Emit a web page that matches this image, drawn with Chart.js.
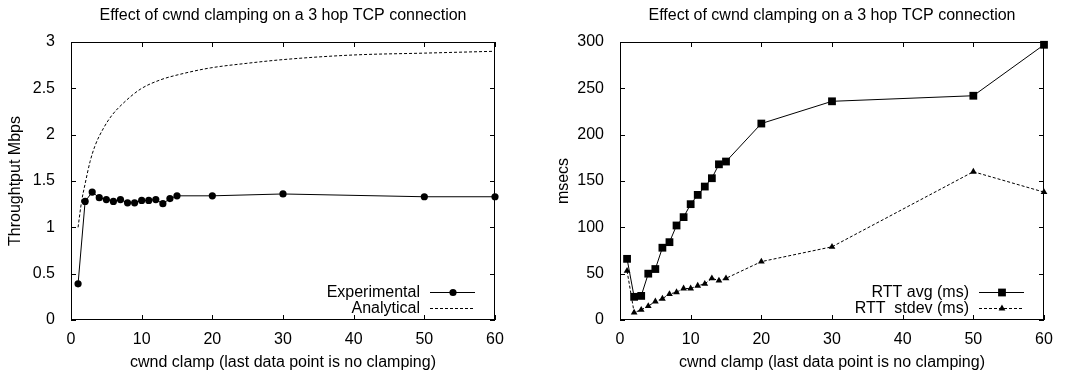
<!DOCTYPE html>
<html>
<head>
<meta charset="utf-8">
<script src="https://cdn.jsdelivr.net/npm/chart.js@4/dist/chart.umd.min.js"></script>
<style>
    html, body { margin: 0; padding: 0; background: #fff; }
    .panel { position: absolute; top: 0; width: 539px; height: 374px; }
</style>
</head>
<body>
<div class="panel" style="left:0"><canvas id="tput-chart" width="539" height="374"></canvas></div>
<div class="panel" style="left:539px"><canvas id="rtt-chart" width="539" height="374"></canvas></div>
<script>
// values
const clamps = [1, 2, 3, 4, 5, 6, 7, 8, 9, 10, 11, 12, 13, 14, 15, 20, 30, 50, 60];
const throughput = [0.39, 1.28, 1.38, 1.32, 1.30, 1.28, 1.30, 1.265, 1.265, 1.29, 1.29, 1.30, 1.255, 1.31, 1.34, 1.34, 1.36, 1.33, 1.33];

const analyticX = [1, 1.5, 2, 2.7, 3.4, 4.6, 5.8, 7.4, 9.8, 12.6, 15.9, 19.7, 24.9, 30, 40, 50, 60];
const analyticY = [1.0, 1.28, 1.47, 1.71, 1.88, 2.07, 2.21, 2.34, 2.49, 2.59, 2.66, 2.72, 2.77, 2.81, 2.86, 2.88, 2.9];

const rttAvg = [66, 25, 26, 50, 55, 78, 84, 102, 111, 125, 135, 144, 153, 168, 171, 212, 236, 242, 297];
const rttStdev = [53, 8, 11, 15, 20, 23, 28, 30, 34, 34, 37, 39, 45, 42.5, 45, 63, 79, 160, 138];

const xTicks = { min: 0, max: 60, step: 10 };
const tputTicks = { min: 0, max: 3, step: 0.5 };
const rttTicks = { min: 0, max: 300, step: 50 };

const TITLE = 'Effect of cwnd clamping on a 3 hop TCP connection';
const X_TITLE = 'cwnd clamp (last data point is no clamping)';
const FONT = "'Liberation Sans', Arial, Helvetica, sans-serif";

const toPoints = (xs, ys) => xs.map((x, i) => ({ x, y: ys[i] }));

// title centred over the plot box, like gnuplot does
const titlePlugin = {
    id: 'plotTitle',
    afterDraw(chart) {
        const { ctx, chartArea: a } = chart;
        ctx.save();
        ctx.font = `16px ${FONT}`;
        ctx.fillStyle = '#000';
        ctx.textAlign = 'center';
        ctx.textBaseline = 'middle';
        ctx.fillText(chart.options.plotTitle, (a.left + a.right) / 2, 16);
        ctx.restore();
    },
};

// gnuplot style border with inward ticks on all four sides
const framePlugin = {
    id: 'frame',
    beforeDatasetsDraw(chart) {
        const { ctx, chartArea: a, scales } = chart;
        const len = 5;
        ctx.save();
        ctx.strokeStyle = '#000';
        ctx.lineWidth = 1;
        ctx.strokeRect(a.left + 0.5, a.top + 0.5, a.right - a.left - 1, a.bottom - a.top - 1);
        ctx.beginPath();
        for (const t of scales.x.ticks) {
            const px = Math.round(scales.x.getPixelForValue(t.value)) + 0.5;
            ctx.moveTo(px, a.bottom);
            ctx.lineTo(px, a.bottom - len);
            ctx.moveTo(px, a.top);
            ctx.lineTo(px, a.top + len);
        }
        for (const t of scales.y.ticks) {
            const py = Math.round(scales.y.getPixelForValue(t.value)) + 0.5;
            ctx.moveTo(a.left, py);
            ctx.lineTo(a.left + len, py);
            ctx.moveTo(a.right, py);
            ctx.lineTo(a.right - len, py);
        }
        ctx.stroke();
        ctx.restore();
    },
};

// key in the lower right corner of the plot, text first then sample
const keyPlugin = {
    id: 'key',
    afterDatasetsDraw(chart) {
        const { ctx, chartArea: a } = chart;
        ctx.save();
        ctx.font = `16px ${FONT}`;
        ctx.textAlign = 'right';
        ctx.textBaseline = 'middle';
        chart.data.datasets.forEach((ds, i) => {
            const y = Math.round(a.bottom - 28 + i * 15.6) + 0.5;
            ctx.fillStyle = '#000';
            ctx.fillText(ds.label, a.right - 75, y);
            ctx.strokeStyle = ds.borderColor;
            ctx.lineWidth = ds.borderWidth;
            ctx.setLineDash(ds.borderDash || []);
            ctx.beginPath();
            ctx.moveTo(a.right - 65, y);
            ctx.lineTo(a.right - 20, y);
            ctx.stroke();
            ctx.setLineDash([]);
            if (ds.pointRadius > 0) {
                ctx.fillStyle = ds.pointBackgroundColor;
                Chart.helpers.drawPoint(ctx, {
                    pointStyle: ds.pointStyle,
                    radius: ds.pointRadius,
                    rotation: 0,
                    borderWidth: 0,
                }, a.right - 42, y);
            }
        });
        ctx.restore();
    },
};

const xScale = () => ({
    type: 'linear',
    min: xTicks.min,
    max: xTicks.max,
    ticks: {
        stepSize: xTicks.step,
        color: '#000',
        font: { family: FONT, size: 16 },
        padding: 2,
        maxRotation: 0,
        callback: (v) => String(v),
    },
    grid: { display: false },
    border: { display: false },
    title: {
        display: true,
        text: X_TITLE,
        color: '#000',
        font: { family: FONT, size: 16 },
        padding: { top: 0, bottom: 2 },
    },
    afterFit: (s) => { s.height = 54; },
});

const yScale = (ticks, label, width, titlePad) => ({
    type: 'linear',
    min: ticks.min,
    max: ticks.max,
    ticks: {
        stepSize: ticks.step,
        color: '#000',
        font: { family: FONT, size: 16 },
        padding: 8,
        callback: (v) => String(v),
    },
    grid: { display: false },
    border: { display: false },
    title: {
        display: true,
        text: label,
        color: '#000',
        font: { family: FONT, size: 16 },
        padding: { top: titlePad, bottom: 0 },
    },
    afterFit: (s) => { s.width = width; },
});

const baseOptions = (rightPad, yOpts) => ({
    responsive: false,
    animation: false,
    events: [],
    plotTitle: TITLE,
    layout: { padding: { left: 0, right: rightPad, top: 42, bottom: 0 } },
    scales: { x: xScale(), y: yOpts },
    plugins: {
        legend: { display: false },
        tooltip: { enabled: false },
        title: { display: false },
    },
});

new Chart(document.getElementById('tput-chart').getContext('2d'), {
    type: 'line',
    data: {
        datasets: [
            {
                label: 'Experimental',
                data: toPoints(clamps, throughput),
                borderColor: '#000',
                borderWidth: 1,
                pointStyle: 'circle',
                pointRadius: 3.6,
                pointBorderWidth: 0,
                pointBackgroundColor: '#000',
                clip: false,
            },
            {
                label: 'Analytical',
                data: toPoints(analyticX, analyticY),
                borderColor: '#000',
                borderWidth: 1,
                borderDash: [3, 2],
                pointRadius: 0,
                cubicInterpolationMode: 'monotone',
                clip: false,
            },
        ],
    },
    options: baseOptions(44, yScale(tputTicks, 'Throughtput Mbps', 71, 6)),
    plugins: [titlePlugin, framePlugin, keyPlugin],
});

new Chart(document.getElementById('rtt-chart').getContext('2d'), {
    type: 'line',
    data: {
        datasets: [
            {
                label: 'RTT avg (ms)',
                data: toPoints(clamps, rttAvg),
                borderColor: '#000',
                borderWidth: 1,
                pointStyle: 'rect',
                pointRadius: 5.5,
                pointBorderWidth: 0,
                pointBackgroundColor: '#000',
                clip: false,
            },
            {
                label: 'RTT  stdev (ms)',
                data: toPoints(clamps, rttStdev),
                borderColor: '#000',
                borderWidth: 1,
                borderDash: [3, 2],
                pointStyle: 'triangle',
                pointRadius: 3.9,
                pointBorderWidth: 0,
                pointBackgroundColor: '#000',
                clip: false,
            },
        ],
    },
    options: baseOptions(34, yScale(rttTicks, 'msecs', 81, 15)),
    plugins: [titlePlugin, framePlugin, keyPlugin],
});
</script>
</body>
</html>
